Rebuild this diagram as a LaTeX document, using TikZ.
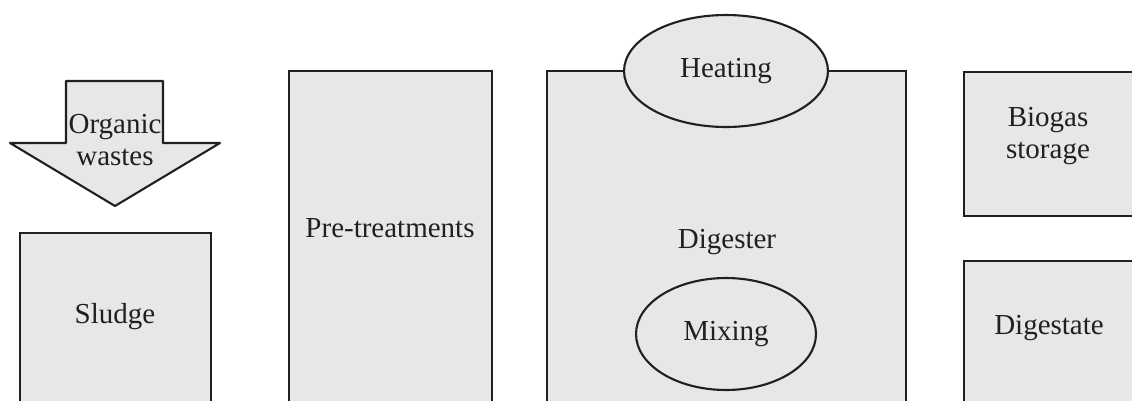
\documentclass[tikz,border=0pt]{standalone}
\usepackage{fontspec}
\setmainfont{Liberation Serif}
\usetikzlibrary{shapes.geometric}
\definecolor{boxgray}{HTML}{E6E7E8}
\definecolor{linedark}{HTML}{231F20}
\tikzset{
  unit/.style={draw=linedark, fill=boxgray, line width=1.2pt, inner sep=0pt},
  tank/.style={unit, rectangle},
  bubble/.style={unit, ellipse},
  tag/.style={font=\fontsize{16.5}{19}\selectfont, text=linedark, align=center}
}
\begin{document}
\begin{tikzpicture}[x=0.02cm, y=-0.02cm]
  \useasboundingbox (0,0) rectangle (1132,400);
  \clip (0,0) rectangle (1132,400);

  % input arrow
  \draw[unit, line join=round] (66,81) -- (163,81) -- (163,143) -- (220,143) -- (115,206)
    -- (10,143) -- (66,143) -- cycle;
  \node[tag] (organic) at (115,140) {Organic\\[-1pt]wastes};

  % boxes
  \node[tank, minimum width=3.82cm, minimum height=3.54cm] (sludge) at (115.5,321.5) {};
  \node[tag] (sludgetxt) at (115,317) {Sludge};

  \node[tank, minimum width=4.06cm, minimum height=6.78cm] (pretreat) at (390.5,240.5) {};
  \node[tag] (pretxt) at (390,228) {Pre-treatments};

  \node[tank, minimum width=7.18cm, minimum height=6.78cm] (digester) at (726.5,240.5) {};
  \node[tag] (digtxt) at (727,242) {Digester};

  \node[bubble, minimum width=4.08cm, minimum height=2.24cm] (heating) at (726,71) {};
  \node[tag] (heattxt) at (heating.center) {Heating};
  \node[bubble, minimum width=3.6cm, minimum height=2.24cm] (mixing) at (726,334) {};
  \node[tag] (mixtxt) at (mixing.center) {Mixing};

  \node[tank, minimum width=3.52cm, minimum height=2.88cm] (biogas) at (1052,144) {};
  \node[tag] (biotxt) at (1048,136) {Biogas\\[-1pt]storage};

  \node[tank, minimum width=3.52cm, minimum height=2.98cm] (digestate) at (1052,335.5) {};
  \node[tag] (digstxt) at (1049,328) {Digestate};
\end{tikzpicture}
\end{document}
